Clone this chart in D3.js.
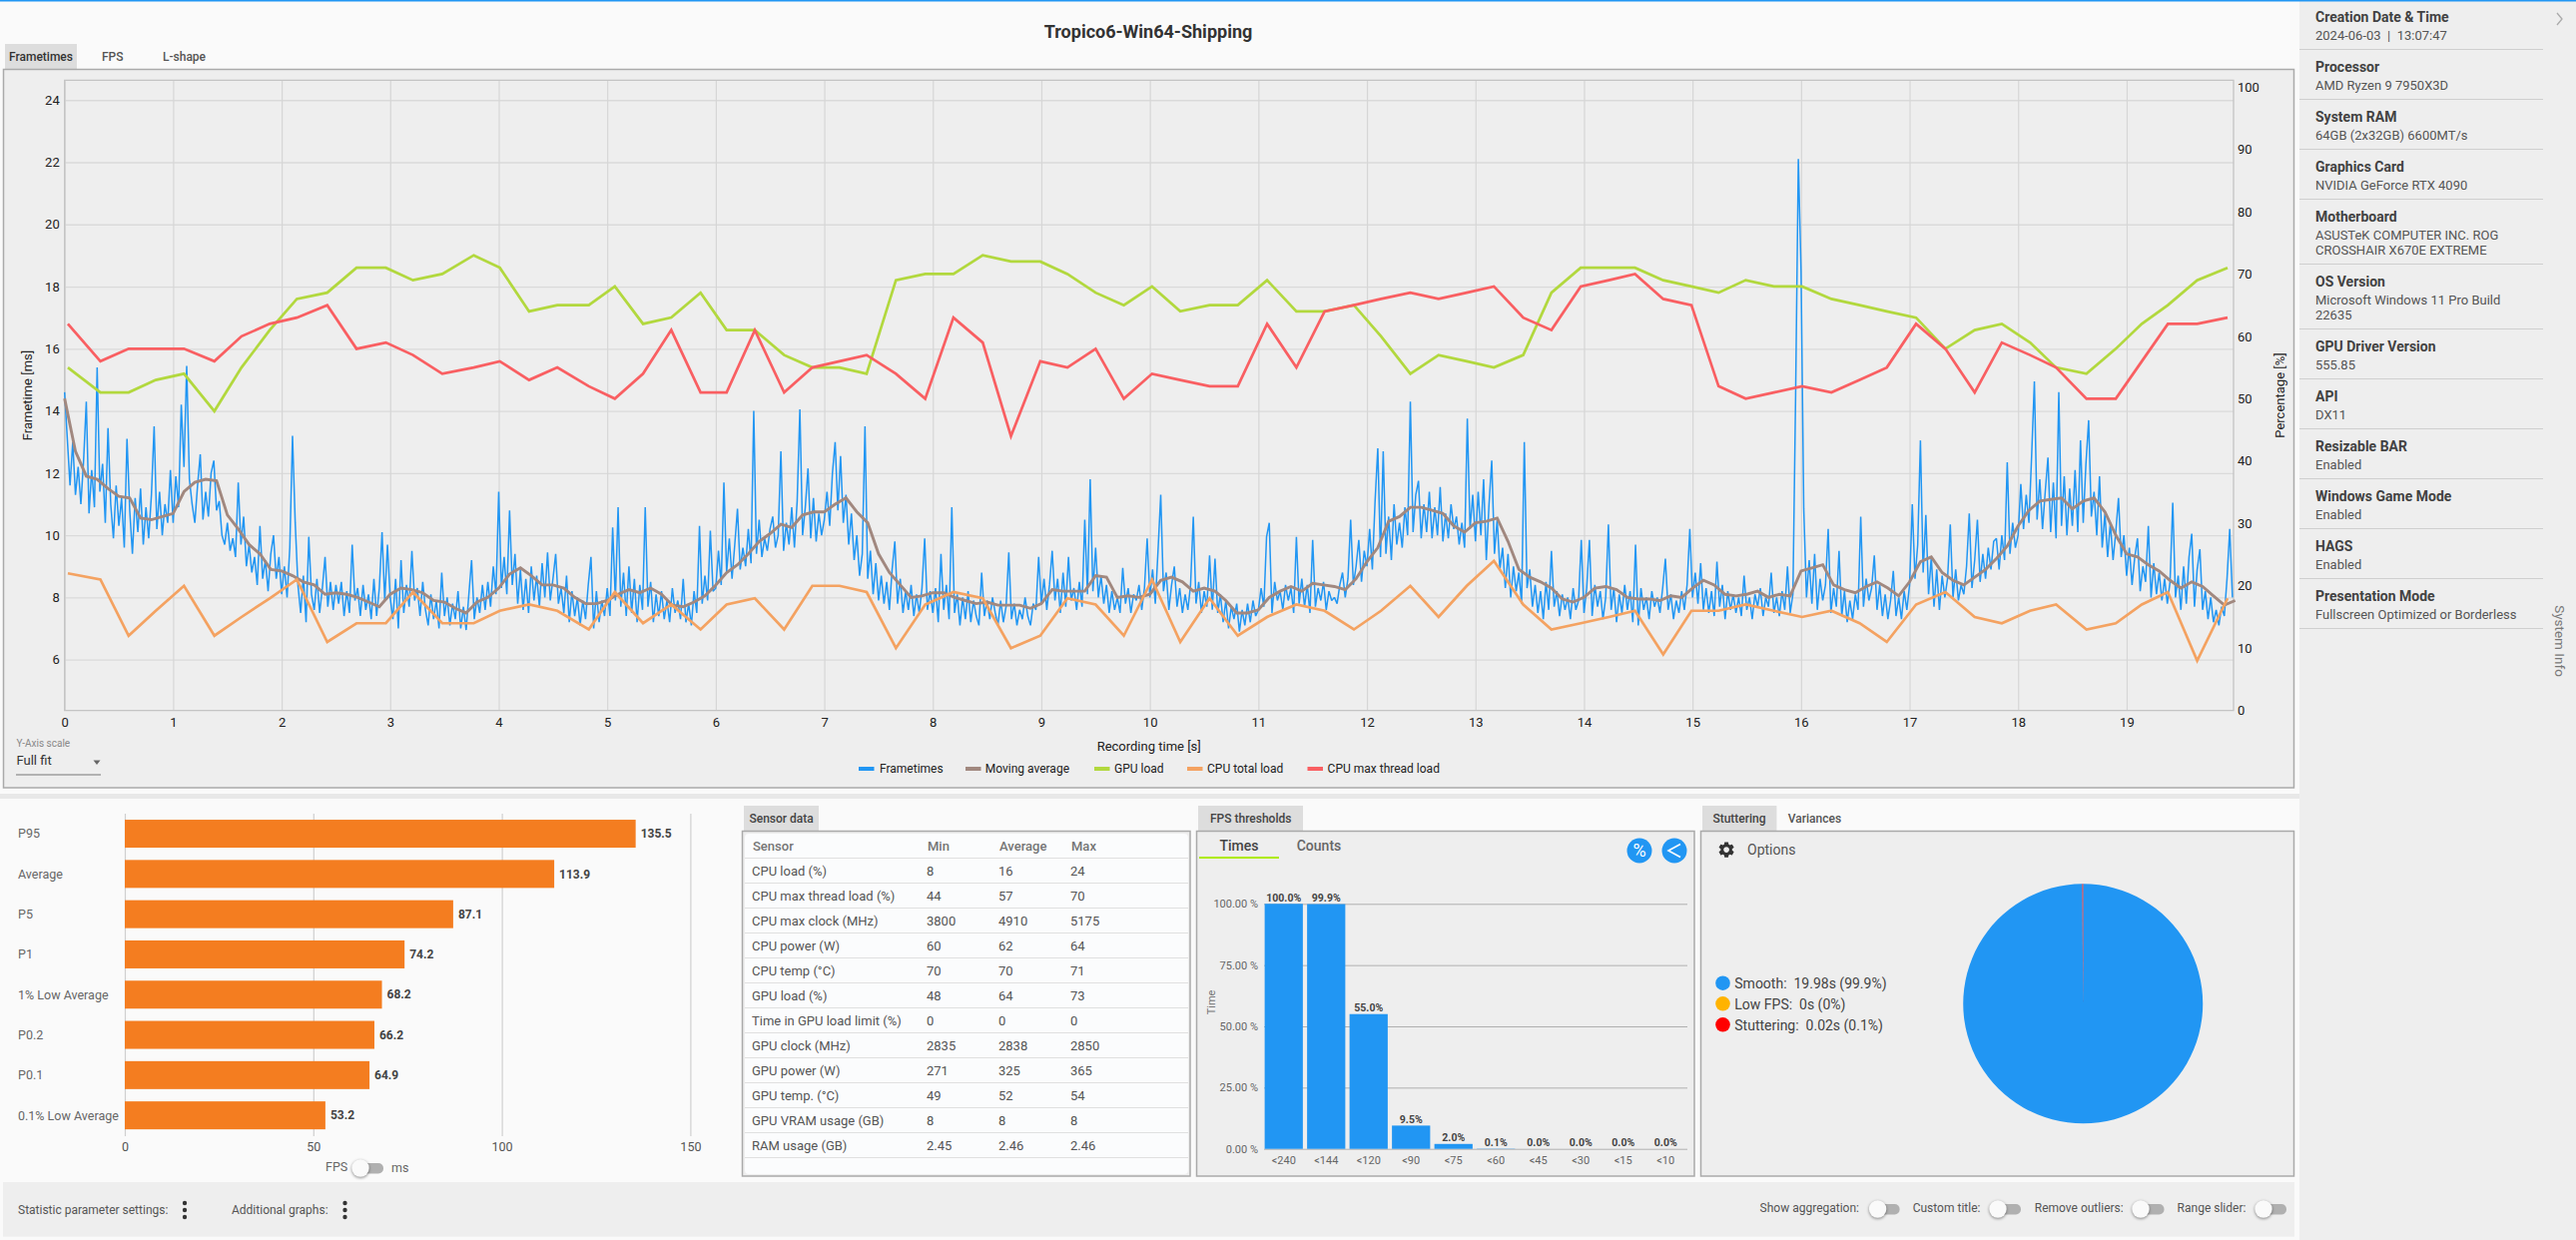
<![CDATA[<!DOCTYPE html>
<html><head><meta charset="utf-8">
<script src="https://cdn.jsdelivr.net/npm/d3@7"></script>
<style>
html,body{margin:0;padding:0;background:#fafafa;overflow:hidden}
svg{display:block}
text{font-family:Roboto,sans-serif}
.axis .domain{display:none}
</style></head><body>
<svg id="c" width="2580" height="1242"></svg>
<script>
// ---------- data ----------
const chartTitle="Tropico6-Win64-Shipping";
const sensorTimes=[0.03,0.33,0.59,0.84,1.10,1.38,1.63,1.89,2.14,2.42,2.69,2.96,3.21,3.48,3.77,4.01,4.28,4.54,4.83,5.07,5.33,5.59,5.86,6.10,6.36,6.63,6.89,7.14,7.39,7.66,7.93,8.19,8.46,8.72,8.99,9.24,9.50,9.76,10.02,10.28,10.55,10.81,11.08,11.35,11.61,11.88,12.13,12.40,12.66,12.92,13.17,13.44,13.70,13.97,14.23,14.47,14.73,14.99,15.24,15.49,15.75,16.01,16.28,16.54,16.79,17.06,17.33,17.60,17.85,18.11,18.35,18.63,18.90,19.14,19.38,19.65,19.93];
const gpuLoad=[55,51,51,53,54,48,55,61,66,67,71,71,69,70,73,71,64,65,65,68,62,63,67,61,61,57,55,55,54,69,70,70,73,72,72,70,67,65,68,64,65,65,69,64,64,65,60,54,57,56,55,57,67,71,71,71,69,68,67,69,68,68,66,65,64,63,58,61,62,59,55,54,58,62,65,69,71];
const cpuTotal=[22,21,12,16,20,12,15,18,21,11,14,14,19,14,14,16,17,16,13,19,14,17,13,17,18,13,20,20,19,10,17,19,18,10,12,18,17,12,21,11,18,12,15,17,16,13,16,20,15,20,24,17,13,14,15,16,9,16,16,17,16,15,16,14,11,17,19,15,14,16,17,13,14,17,19,8,18];
const cpuMax=[62,56,58,58,58,56,60,62,63,65,58,59,57,54,55,56,53,55,52,50,54,61,51,51,61,51,55,56,57,54,50,63,59,44,56,55,58,50,54,53,52,52,62,55,64,65,66,67,66,67,68,63,61,68,69,70,66,65,52,50,51,52,51,53,55,62,58,51,59,57,55,50,50,56,62,62,63];
// moving average, one reading every 0.1 s
const movingAverage=[14.4,12.7,11.9,11.8,11.5,11.25,11.2,10.55,10.5,10.6,10.7,11.4,11.7,11.8,11.75,10.65,10.2,9.7,9.4,8.9,8.85,8.7,8.5,8.4,8.1,8.15,8.1,8.0,7.85,7.7,8.1,8.3,8.25,8.15,7.9,7.85,7.65,7.5,7.85,8,8.3,8.75,8.95,8.7,8.4,8.4,8.3,8,7.8,7.8,7.9,8.1,8.25,8.15,8.3,8.1,7.75,7.7,7.85,8.05,8.4,8.8,9.05,9.4,9.8,10.05,10.35,10.25,10.65,10.75,10.75,11,11.2,10.75,10.4,9.4,8.8,8.4,8,8.05,8.15,8.15,8,7.9,7.8,7.85,7.75,7.75,7.75,7.65,7.8,8.25,8.2,8.2,8.2,8.7,8.65,8,8.05,8,8.1,8.55,8.65,8.5,8.2,8.3,8.2,7.9,7.5,7.5,7.6,8,8.2,8.35,8.2,8.45,8.4,8.35,8.25,8.6,9.15,9.6,10.45,10.6,10.9,10.9,10.8,10.7,10.3,10.1,10.4,10.45,10.55,9.8,8.9,8.65,8.5,8.3,7.95,7.85,8,8.3,8.35,8.25,8,7.95,7.95,7.9,8.05,8,8.3,8.55,8.4,8.1,8.05,8.1,8.2,8,8.1,8.05,8.85,8.95,9.05,8.4,8.25,8.15,8.35,8.5,8.3,8.05,8.5,9.15,9.3,8.8,8.55,8.4,8.65,8.9,9.25,9.65,10.3,10.8,11.1,11.15,11.2,10.85,11.1,11.2,10.75,10,9.4,9.3,9.05,8.85,8.55,8.3,8.5,8.35,8.05,7.75,7.9];
// frametimes (ms) read second by second
const frameBySecond=[
[14.6,13.1,11.6,13.0,11.3,12.2,11.0,12.4,14.3,10.7,12.1,10.9,15.4,11.4,12.3,10.4,13.45,11.0,9.9,11.6,10.3,11.2,9.6,13.1,10.8,9.4,11.2,10.1,11.5,9.7,10.9,9.9,11.3,13.5,10.2,11.4,10.0,11.0,10.4,12.1],
[10.4,11.9,10.9,14.2,12.2,15.45,11.8,11.0,10.4,11.6,12.6,10.5,11.4,10.6,12.0,12.4,10.8,11.1,10.0,9.7,10.4,9.5,9.9,9.3,11.7,9.7,10.6,9.0,9.7,8.8,9.3,8.4,10.3,8.6,9.2,8.2,9.4,10.0,8.6,9.3],
[8.1,9.0,8.0,9.6,13.2,10.4,8.4,7.5,8.7,7.2,9.95,8.1,7.6,8.6,7.5,8.3,9.3,7.7,8.5,7.6,8.4,7.8,8.5,7.4,8.2,7.5,9.7,7.9,8.3,7.4,8.4,7.6,8.1,7.3,8.6,7.4,8.3,10.1,7.9,9.7],
[8.0,7.3,8.6,7.0,9.2,7.5,8.4,7.7,9.5,7.9,8.3,7.4,8.5,7.6,7.1,8.1,7.3,7.9,7.0,8.8,7.4,8.0,7.1,7.8,7.3,8.2,7.0,7.7,6.95,8.1,9.2,7.3,8.0,7.5,8.4,7.6,8.5,7.7,9.0,8.1],
[11.4,8.3,9.3,8.1,10.8,8.4,9.4,7.8,8.9,7.6,8.6,7.5,9.0,7.9,8.7,7.7,9.1,8.0,9.45,7.9,8.6,9.4,7.8,8.3,7.5,8.7,7.2,8.2,7.4,8.0,7.1,7.9,7.3,8.4,9.3,7.0,8.2,7.2,7.9,7.4],
[8.3,7.4,10.25,7.9,10.9,7.7,8.8,7.4,9.0,7.5,8.6,7.2,8.4,7.6,10.9,7.7,8.5,7.2,8.1,7.4,8.2,7.3,7.9,7.2,8.3,7.5,7.9,7.3,8.6,7.2,7.8,7.1,8.2,7.5,10.3,7.8,8.7,7.9,10.15,8.2],
[8.3,9.5,8.4,11.7,8.8,9.9,8.6,9.7,10.85,8.9,9.6,9.0,10.2,9.1,14.0,9.4,10.5,9.3,9.9,9.5,10.2,10.6,9.6,10.0,12.7,9.5,10.4,9.7,10.9,9.6,11.1,14.05,10.0,10.9,12.15,9.9,11.2,9.8,10.7,10.0],
[10.5,11.4,10.3,12.0,13.0,10.8,12.55,10.4,11.3,9.7,10.7,9.2,10.0,8.7,9.4,13.5,8.6,9.5,8.1,9.1,7.9,8.7,7.8,8.5,7.6,8.9,9.8,7.8,8.6,7.5,8.2,7.6,8.4,7.4,8.1,7.5,8.3,9.9,7.6,8.2],
[7.5,8.3,7.2,9.4,7.6,8.4,7.3,10.9,7.5,8.1,7.1,8.0,7.3,8.2,7.2,7.9,7.4,7.1,8.8,7.4,7.9,7.3,8.0,7.5,7.1,7.9,7.2,7.7,9.45,7.3,7.8,7.1,7.6,7.3,8.0,7.4,7.1,7.8,7.6,9.3],
[7.8,8.6,7.6,8.4,9.5,7.9,8.6,7.5,8.8,7.7,9.3,7.9,8.3,7.6,8.5,7.7,10.5,8.1,11.8,8.2,9.6,8.0,8.7,7.8,8.4,7.5,8.2,7.6,8.0,7.5,8.95,7.8,8.3,7.5,8.1,7.9,8.4,7.6,8.3,9.9],
[8.0,8.9,7.8,9.5,11.3,8.2,8.8,7.6,8.4,9.0,7.7,8.3,7.5,8.1,7.6,8.4,10.6,7.8,8.5,7.5,8.2,7.7,9.35,7.6,9.25,7.5,8.1,7.2,7.9,7.0,7.7,7.3,7.8,6.9,7.6,7.1,7.8,7.2,7.9,7.4],
[7.6,8.3,7.7,9.95,10.4,7.5,8.5,7.9,8.2,7.6,8.4,7.9,8.3,7.5,9.95,7.8,8.6,7.7,8.4,7.5,9.85,7.7,8.3,7.9,8.5,7.6,8.2,7.9,8.0,7.8,8.4,8.8,8.0,8.6,10.5,8.4,9.0,9.85,8.5,9.5],
[9.0,10.2,8.9,11.1,12.8,9.3,12.7,9.4,10.6,9.2,11.0,9.7,10.4,9.6,10.9,10.0,14.3,10.1,11.3,11.75,9.9,11.0,10.1,11.4,9.9,10.9,10.0,11.55,9.8,10.7,9.9,11.0,10.2,10.6,9.7,10.4,9.6,13.75,10.2,11.3],
[9.8,11.4,10.0,11.8,9.2,11.0,12.4,9.4,10.5,8.9,9.6,8.3,9.4,8.0,9.0,8.2,8.8,7.8,13.0,8.3,8.9,7.7,8.4,7.5,8.2,7.3,8.5,7.6,9.5,7.7,8.2,7.4,8.1,7.6,8.0,7.3,8.3,7.6,7.9,9.85],
[7.5,8.3,9.85,7.4,8.4,7.7,8.2,7.3,8.0,10.35,7.6,8.3,7.2,8.1,7.5,8.4,7.6,8.2,7.2,9.7,7.1,8.3,7.6,8.0,7.3,8.2,7.7,8.0,7.5,8.3,9.25,7.6,8.1,7.3,7.9,7.5,8.2,7.6,8.4,10.2],
[8.0,8.8,7.8,9.1,7.6,8.3,7.5,8.2,7.4,9.15,7.7,8.4,7.3,8.2,7.6,8.1,7.5,8.0,7.4,8.7,7.6,8.0,7.3,8.1,7.7,8.3,7.4,8.0,7.7,8.8,7.5,8.0,7.4,8.2,7.6,9.0,7.5,8.1,14.5,22.1],
[18.5,10.85,8.0,9.2,7.8,9.4,7.6,8.6,7.9,8.4,10.2,7.5,8.3,7.7,9.5,7.4,8.2,7.2,7.9,7.3,8.1,7.6,10.6,7.7,8.6,7.9,8.3,9.35,7.6,8.4,7.4,8.1,7.3,7.9,8.85,7.4,8.0,7.3,8.2,7.6],
[8.4,11.0,8.6,9.7,13.05,8.8,10.65,8.1,9.3,7.7,8.9,7.6,8.7,8.0,8.6,10.35,8.0,8.9,7.9,8.4,8.1,9.0,10.7,8.3,9.2,10.5,8.5,9.4,8.6,9.6,8.9,9.8,9.9,8.9,10.0,9.2,12.35,9.4,10.4,9.6],
[10.0,11.65,10.2,11.3,10.4,12.6,14.95,10.5,11.8,10.2,11.4,12.5,10.1,11.7,9.9,14.6,10.3,11.9,10.0,11.5,10.3,12.1,10.1,13.05,10.4,12.3,13.7,10.6,11.4,10.0,11.9,9.6,10.7,9.3,10.4,9.2,10.1,11.2,9.3,10.0],
[8.7,9.6,8.4,9.3,9.9,8.2,9.0,8.5,10.3,8.0,9.1,8.1,8.8,7.9,8.6,7.8,8.5,11.05,8.0,8.7,7.6,9.0,7.8,9.3,10.05,7.7,8.9,9.55,7.6,8.2,7.3,8.0,7.2,7.6,7.1,7.7,7.4,8.6,10.2,8.0]
];
const leftTicks=[6,8,10,12,14,16,18,20,22,24];
const rightTicks=[0,10,20,30,40,50,60,70,80,90,100];
const timeTicks=[0,1,2,3,4,5,6,7,8,9,10,11,12,13,14,15,16,17,18,19];
const legendNames=["Frametimes","Moving average","GPU load","CPU total load","CPU max thread load"];
const legendColors=["#2196f3","#a1887f","#b2d83e","#f4a261","#f95f62"];
const chartTabs=["Frametimes","FPS","L-shape"];
const statLabels=["P95","Average","P5","P1","1% Low Average","P0.2","P0.1","0.1% Low Average"];
const statValues=[135.5,113.9,87.1,74.2,68.2,66.2,64.9,53.2];
const statTicks=[0,50,100,150];
const sensorHeader=["Sensor","Min","Average","Max"];
const sensorRows=[["CPU load (%)","8","16","24"],["CPU max thread load (%)","44","57","70"],["CPU max clock (MHz)","3800","4910","5175"],["CPU power (W)","60","62","64"],["CPU temp (°C)","70","70","71"],["GPU load (%)","48","64","73"],["Time in GPU load limit (%)","0","0","0"],["GPU clock (MHz)","2835","2838","2850"],["GPU power (W)","271","325","365"],["GPU temp. (°C)","49","52","54"],["GPU VRAM usage (GB)","8","8","8"],["RAM usage (GB)","2.45","2.46","2.46"]];
const thresholdLabels=["<240","<144","<120","<90","<75","<60","<45","<30","<15","<10"];
const thresholdValues=[100,99.9,55,9.5,2.0,0.1,0,0,0,0];
const thresholdTicks=[0,25,50,75,100];
const stutterNames=["Smooth:  19.98s (99.9%)","Low FPS:  0s (0%)","Stuttering:  0.02s (0.1%)"];
const stutterShares=[99.9,0,0.1];
const stutterColors=["#2196f3","#ffb300","#ff0000"];
const systemInfo=[["Creation Date & Time",["2024-06-03  |  13:07:47"]],["Processor",["AMD Ryzen 9 7950X3D"]],["System RAM",["64GB (2x32GB) 6600MT/s"]],["Graphics Card",["NVIDIA GeForce RTX 4090"]],["Motherboard",["ASUSTeK COMPUTER INC. ROG","CROSSHAIR X670E EXTREME"]],["OS Version",["Microsoft Windows 11 Pro Build","22635"]],["GPU Driver Version",["555.85"]],["API",["DX11"]],["Resizable BAR",["Enabled"]],["Windows Game Mode",["Enabled"]],["HAGS",["Enabled"]],["Presentation Mode",["Fullscreen Optimized or Borderless"]]];

// ---------- helpers ----------
const svg=d3.select("#c");
function rect(p,x0,y0,x1,y1,fill,stroke,sw){return p.append("rect").attr("x",x0).attr("y",y0).attr("width",x1-x0).attr("height",y1-y0).attr("fill",fill||"none").attr("stroke",stroke||"none").attr("stroke-width",sw||0);}
function txt(p,x,y,s,size,color,opt){opt=opt||{};const t=p.append("text").attr("x",x).attr("y",y).attr("dy","0.35em").attr("font-size",size).attr("fill",color).attr("text-anchor",opt.anchor||"start").attr("font-weight",opt.weight||400).style("white-space","pre").text(s);if(opt.rot)t.attr("transform",`rotate(${opt.rot} ${x} ${y})`);return t;}
function hline(p,x0,x1,y,c,w){p.append("line").attr("x1",x0).attr("x2",x1).attr("y1",y).attr("y2",y).attr("stroke",c).attr("stroke-width",w||1);}
function toggle(p,x0,x1,y){p.append("rect").attr("x",x0+4).attr("y",y-5).attr("width",x1-x0-4).attr("height",10.5).attr("rx",5).attr("fill","#b0b0b0");p.append("circle").attr("cx",x0+9).attr("cy",y).attr("r",8.7).attr("fill","#fafafa").style("filter","drop-shadow(0 1px 1.5px rgba(0,0,0,.45))");}
function dots(p,x,y){[-7,0,7].forEach(d=>p.append("circle").attr("cx",x).attr("cy",y+d).attr("r",2.2).attr("fill","#333"));}

// ---------- page background ----------
rect(svg,0,0,2580,1242,"#fafafa");
rect(svg,2303,0,2580,1242,"#eeeeee");
rect(svg,0,0,2580,1.5,"#2196f3");
rect(svg,0,795,2303,800,"#e8e8e8");
rect(svg,3,1184,2298,1238.7,"#eeeeee");

// ---------- title and tabs ----------
txt(svg,1150,32,chartTitle,18,"#333",{anchor:"middle",weight:700});
rect(svg,5,44,77,69,"#dddddd");
const tabX=[9,102,163];
chartTabs.forEach((t,i)=>txt(svg,tabX[i],57,t,12,i?"#555":"#333",{weight:500}));

// ---------- main chart ----------
const px0=64.7,px1=2237,py0=711.7,py1=80.3;
rect(svg,3.5,69.5,2297.5,789,"#eeeeee","#aaaaaa",1.5);
const x=d3.scaleLinear().domain([0,19.985]).range([px0,px1]);
const yL=d3.scaleLinear().domain([4.36,24.64]).range([py0,py1]);
const yR=d3.scaleLinear().domain([0,101.07]).range([py0,py1]);
const main=svg.append("g");
// grids
const gY=main.append("g").attr("class","axis").attr("transform",`translate(${px0},0)`).call(d3.axisLeft(yL).tickValues(leftTicks).tickSize(-(px1-px0)).tickPadding(5));
gY.selectAll("line").attr("stroke","#dadada").attr("stroke-width",1.3);
gY.selectAll("text").attr("font-size",13).attr("fill","#222").attr("font-family","Roboto");
const gX=main.append("g").attr("class","axis").attr("transform",`translate(0,${py0})`).call(d3.axisBottom(x).tickValues(timeTicks).tickSize(-(py0-py1)).tickPadding(7));
gX.selectAll("line").attr("stroke","#d6d6d6").attr("stroke-width",1.2);
gX.selectAll("text").attr("font-size",13).attr("fill","#222").attr("font-family","Roboto");
const gR=main.append("g").attr("class","axis").attr("transform",`translate(${px1},0)`).call(d3.axisRight(yR).tickValues(rightTicks).tickSize(0).tickPadding(4));
gR.selectAll("text").attr("font-size",13).attr("fill","#222").attr("font-family","Roboto");
main.append("path").attr("d",`M${px0},${py1}H${px1}V${py0}H${px0}Z`).attr("fill","none").attr("stroke","#c4c4c4").attr("stroke-width",1.3);
// series
const frameSeries=frameBySecond.flatMap((vals,s)=>vals.map((v,j)=>[s+j/vals.length,v]));
const lineL=d3.line().x(d=>x(d[0])).y(d=>yL(d[1]));
const lineR=d3.line().x(d=>x(d[0])).y(d=>yR(d[1]));
main.append("path").attr("d",lineL(frameSeries)).attr("fill","none").attr("stroke","#2196f3").attr("stroke-width",1.5).attr("stroke-linejoin","bevel");
main.append("path").attr("d",lineL(movingAverage.map((v,i)=>[i*0.1,v]))).attr("fill","none").attr("stroke","#a1887f").attr("stroke-width",2.9);
[[gpuLoad,legendColors[2]],[cpuTotal,legendColors[3]],[cpuMax,legendColors[4]]].forEach(([vals,col])=>{
  main.append("path").attr("d",lineR(d3.zip(sensorTimes,vals))).attr("fill","none").attr("stroke",col).attr("stroke-width",2.7);
});
txt(svg,27,396,"Frametime [ms]",13,"#222",{anchor:"middle",rot:-90});
txt(svg,2283,396,"Percentage [%]",13,"#222",{anchor:"middle",rot:-90});
txt(svg,1150.7,747.7,"Recording time [s]",13,"#222",{anchor:"middle"});
const legX=[860,967,1096,1189,1309.5],legTX=[881,986.7,1116,1209,1329.6];
legendNames.forEach((n,i)=>{rect(svg,legX[i],768,legX[i]+15.5,772,legendColors[i]);txt(svg,legTX[i],770,n,12,"#222");});
txt(svg,16.5,744,"Y-Axis scale",10,"#888");
txt(svg,16.5,761.7,"Full fit",13,"#333");
hline(svg,16,101,776,"#777",1);
svg.append("path").attr("d","M93.5,761.5h7l-3.5,4.5z").attr("fill","#666");

// ---------- statistics bars ----------
const sx=d3.scaleLinear().domain([0,150]).range([125,691.4]);
const sy=d3.scaleBand().domain(statLabels).range([815,1137.2]).paddingInner(.305).paddingOuter(.15);
const stat=svg.append("g");
const gS=stat.append("g").attr("class","axis").attr("transform","translate(0,1138)").call(d3.axisBottom(sx).tickValues(statTicks).tickSize(-323).tickPadding(6));
gS.selectAll("line").attr("stroke","#cfcfcf").attr("stroke-width",1.2);
gS.selectAll("text").attr("font-size",12.5).attr("fill","#555").attr("font-family","Roboto");
stat.selectAll("rect.b").data(statValues).join("rect").attr("class","b").attr("x",sx(0)).attr("y",(d,i)=>sy(statLabels[i])).attr("width",d=>sx(d)-sx(0)).attr("height",sy.bandwidth()).attr("fill","#f47d20");
statLabels.forEach((l,i)=>{const cy=sy(l)+sy.bandwidth()/2;txt(stat,18,cy,l,12.5,"#666");txt(stat,sx(statValues[i])+5,cy,statValues[i].toFixed(1),12,"#444",{weight:700});});
txt(svg,326,1169,"FPS",12.5,"#666");toggle(svg,352,384,1170);txt(svg,392,1170,"ms",12.5,"#666");

// ---------- bottom strip ----------
txt(svg,18,1212,"Statistic parameter settings:",12,"#555");dots(svg,185,1212);
txt(svg,232,1212,"Additional graphs:",12,"#555");dots(svg,345.5,1212);
[["Show aggregation:",1762.6,1871.6,1902.6],["Custom title:",1915.7,1992,2024],["Remove outliers:",2037.8,2135,2167.5],["Range slider:",2180.6,2258,2290]].forEach(([s,tx,a,b])=>{txt(svg,tx,1210,s,12,"#555");toggle(svg,a,b,1211);});

// ---------- sensor table ----------
rect(svg,745,807,820,832,"#dddddd");
txt(svg,750.5,820,"Sensor data",12,"#444",{weight:500});
rect(svg,743.5,832.5,1192,1178,"#eeeeee","#aaaaaa",1.5);
svg.append("rect").attr("x",746).attr("y",835).attr("width",444).attr("height",341).attr("rx",4).attr("fill","#fbfcfd");
const colX=[753,928,1000,1072];
sensorHeader.forEach((h,i)=>txt(svg,colX[i]+1,847.7,h,13,"#757575",{weight:500}));
hline(svg,746,1190,859.5,"#e0e0e0",1);
sensorRows.forEach((r,k)=>{const yc=872.7+25*k;r.forEach((v,i)=>txt(svg,colX[i],yc,v,13,"#555"));hline(svg,746,1190,884.5+25*k,"#e0e0e0",1);});

// ---------- FPS thresholds ----------
rect(svg,1200,807,1305,832,"#dddddd");
txt(svg,1212,820,"FPS thresholds",12,"#444",{weight:500});
rect(svg,1198.5,832.5,1697,1178,"#eeeeee","#aaaaaa",1.5);
txt(svg,1241,847.3,"Times",14,"#444",{anchor:"middle",weight:500});
txt(svg,1321,847.3,"Counts",14,"#666",{anchor:"middle",weight:500});
rect(svg,1201,858,1281,860,"#aeea00");
[1642,1677].forEach(cx=>svg.append("circle").attr("cx",cx).attr("cy",852).attr("r",12.5).attr("fill","#2196f3"));
txt(svg,1642,852,"%",18,"#fff",{anchor:"middle"});
svg.append("path").attr("d","M1683,845.5 L1671,852 L1683,858.5").attr("fill","none").attr("stroke","#fff").attr("stroke-width",1.6);
const tx=d3.scaleBand().domain(thresholdLabels).range([1264.5,1689.5]).paddingInner(.1).paddingOuter(.05);
const ty=d3.scaleLinear().domain([0,100]).range([1150.7,905.3]);
const th=svg.append("g");
const gT=th.append("g").attr("class","axis").attr("transform","translate(1266,0)").call(d3.axisLeft(ty).tickValues(thresholdTicks).tickSize(-424).tickPadding(6).tickFormat(d=>d3.format(".2f")(d)+" %"));
gT.selectAll("line").attr("stroke","#b0b0b0").attr("stroke-width",1);
gT.selectAll("text").attr("font-size",11).attr("fill","#666").attr("font-family","Roboto");
th.selectAll("rect.b").data(thresholdValues).join("rect").attr("class","b").attr("x",(d,i)=>tx(thresholdLabels[i])).attr("y",d=>ty(d)).attr("width",tx.bandwidth()).attr("height",d=>ty(0)-ty(d)).attr("fill","#2196f3");
thresholdLabels.forEach((l,i)=>{const cx=tx(l)+tx.bandwidth()/2;txt(th,cx,ty(thresholdValues[i])-6,thresholdValues[i].toFixed(1)+"%",10.5,"#444",{anchor:"middle",weight:700});txt(th,cx,1161.7,l,11,"#666",{anchor:"middle"});});
txt(svg,1213,1004,"Time",11,"#777",{anchor:"middle",rot:-90});

// ---------- stuttering ----------
rect(svg,1705,807,1779.4,832,"#dddddd");
txt(svg,1742,820,"Stuttering",12,"#444",{anchor:"middle",weight:500});
txt(svg,1790.8,820,"Variances",12,"#555",{weight:500});
rect(svg,1703.5,832.5,2297.5,1178,"#eeeeee","#aaaaaa",1.5);
svg.append("path").attr("transform","translate(1719.5,841.5) scale(.8)").attr("fill","#333").attr("d","M19.14 12.94c.04-.3.06-.61.06-.94 0-.32-.02-.64-.07-.94l2.03-1.58a.49.49 0 0 0 .12-.61l-1.92-3.32a.488.488 0 0 0-.59-.22l-2.39.96c-.5-.38-1.03-.7-1.62-.94l-.36-2.54a.484.484 0 0 0-.48-.41h-3.84c-.24 0-.43.17-.47.41l-.36 2.54c-.59.24-1.13.57-1.62.94l-2.39-.96c-.22-.08-.47 0-.59.22L2.74 8.87c-.12.21-.08.47.12.61l2.03 1.58c-.05.3-.09.63-.09.94s.02.64.07.94l-2.03 1.58a.49.49 0 0 0-.12.61l1.92 3.32c.12.22.37.29.59.22l2.39-.96c.5.38 1.03.7 1.62.94l.36 2.54c.05.24.24.41.48.41h3.84c.24 0 .44-.17.47-.41l.36-2.54c.59-.24 1.13-.56 1.62-.94l2.39.96c.22.08.47 0 .59-.22l1.92-3.32c.12-.22.07-.47-.12-.61l-2.01-1.58zM12 15.6c-1.98 0-3.6-1.62-3.6-3.6s1.62-3.6 3.6-3.6 3.6 1.62 3.6 3.6-1.62 3.6-3.6 3.6z");
txt(svg,1750,851.5,"Options",14,"#555");
const legY=[984.7,1005.3,1026.3];
stutterNames.forEach((n,i)=>{svg.append("circle").attr("cx",1725.5).attr("cy",legY[i]).attr("r",7.3).attr("fill",stutterColors[i]);txt(svg,1737.3,legY[i]+.5,n,14,"#444");});
const pie=d3.pie().sort(null)(stutterShares);
const arc=d3.arc().innerRadius(0).outerRadius(120);
svg.append("g").attr("transform","translate(2086.3,1005.3)").selectAll("path").data(pie).join("path").attr("d",arc).attr("fill",(d,i)=>stutterColors[i]);

// ---------- system info sidebar ----------
let sy0=0;
systemInfo.forEach(([h,vals])=>{
  txt(svg,2319,sy0+17,h,14,"#424242",{weight:700});
  vals.forEach((v,i)=>txt(svg,2319,sy0+35+15*i,v,13,"#555"));
  sy0+=35+15*vals.length;
  hline(svg,2303,2547,sy0-.5,"#cfcfcf",1.2);
});
svg.append("path").attr("d","M2561,13 l5,6 l-5,6").attr("fill","none").attr("stroke","#aaa").attr("stroke-width",1.3);
txt(svg,2564,642,"System Info",13.5,"#777",{anchor:"middle",rot:90});
</script></body></html>
]]>
